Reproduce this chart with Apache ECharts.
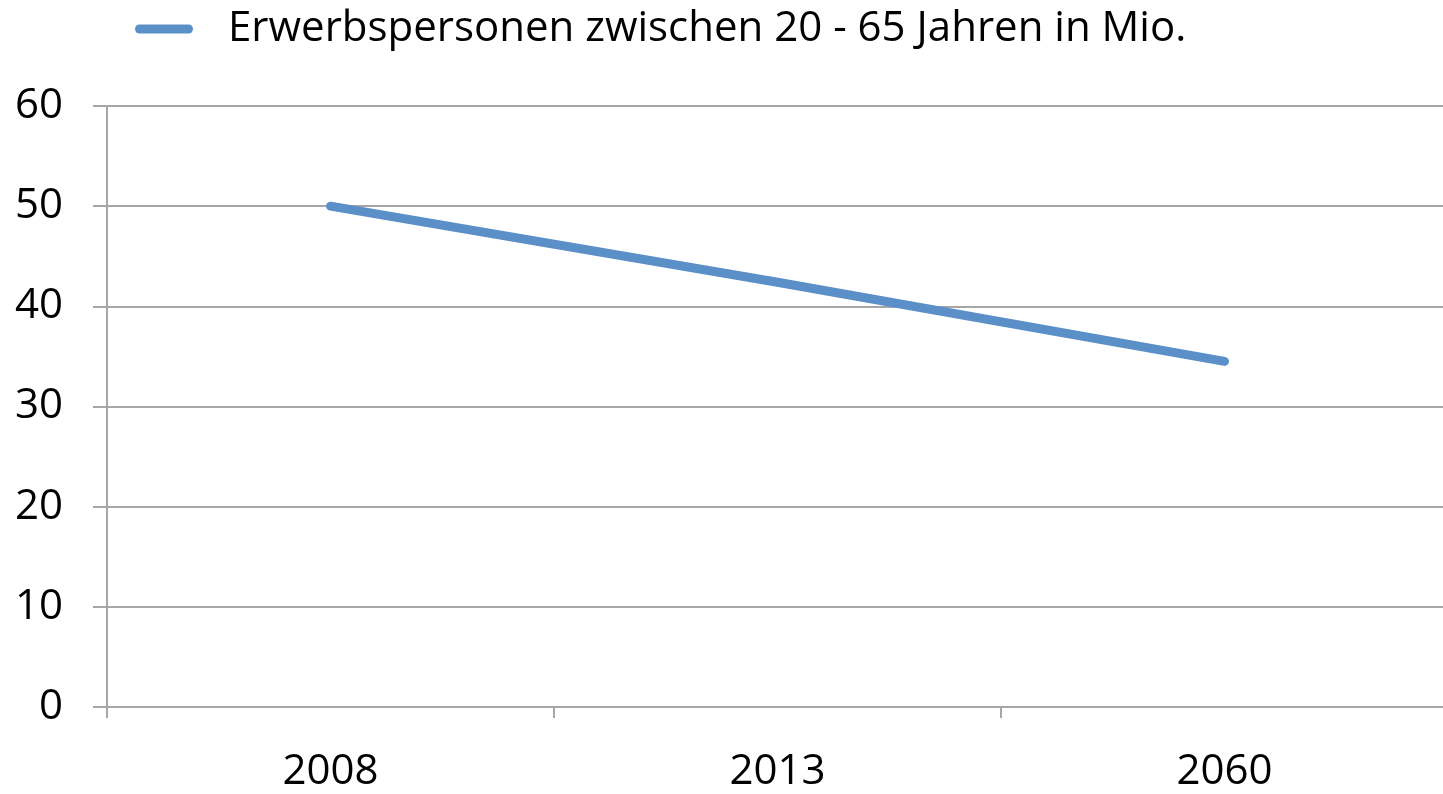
<!DOCTYPE html>
<html>
<head>
<meta charset="utf-8">
<script src="https://cdn.jsdelivr.net/npm/echarts@6/dist/echarts.min.js"></script>
<style>
  html, body { margin: 0; padding: 0; background: #fff; }
  #chart { width: 1443px; height: 794px; }
</style>
</head>
<body>
<div id="chart"></div>
<script>
// data
var years = ['2008', '2013', '2060'];
var erwerbspersonen = [50, 42.4, 34.5];
var seriesName = 'Erwerbspersonen zwischen 20 - 65 Jahren in Mio.';

var axisGrey = '#a6a6a6';
var lineBlue = '#5b8fc7';
var font = 'Open Sans';

var myChart = echarts.init(document.getElementById('chart'));
var option = {
    backgroundColor: '#fff',
    animation: false,
    legend: {
        data: [seriesName],
        left: 135,
        top: 8,
        padding: 0,
        itemWidth: 58,
        itemHeight: 9,
        itemGap: 10,
        icon: 'path://M4.5,0 H53.5 A4.5,4.5 0 0 1 53.5,9 H4.5 A4.5,4.5 0 0 1 4.5,0 Z',
        itemStyle: { color: lineBlue },
        textStyle: {
            color: '#000',
            fontFamily: font,
            fontSize: 42,
            padding: [0, 0, 0, 30]
        }
    },
    grid: {
        left: 107,
        top: 106,
        width: 1341,
        bottom: 87,
        outerBoundsMode: 'none',
        containLabel: false
    },
    xAxis: {
        type: 'category',
        data: years,
        boundaryGap: true,
        axisLine: { lineStyle: { color: axisGrey, width: 2 } },
        axisTick: { show: true, length: 11, lineStyle: { color: axisGrey, width: 2 } },
        axisLabel: { color: '#000', fontFamily: font, fontSize: 42, margin: 44 }
    },
    yAxis: {
        type: 'value',
        min: 0,
        max: 60,
        interval: 10,
        axisLine: { show: true, lineStyle: { color: axisGrey, width: 2 } },
        axisTick: { show: true, length: 14, lineStyle: { color: axisGrey, width: 2 } },
        axisLabel: { color: '#000', fontFamily: font, fontSize: 42, margin: 44 },
        splitLine: { show: true, lineStyle: { color: axisGrey, width: 2 } }
    },
    series: [
        {
            name: seriesName,
            type: 'line',
            data: erwerbspersonen,
            symbol: 'none',
            lineStyle: { color: lineBlue, width: 9, cap: 'round' },
            itemStyle: { color: lineBlue }
        }
    ]
};
option && myChart.setOption(option);
</script>
</body>
</html>
